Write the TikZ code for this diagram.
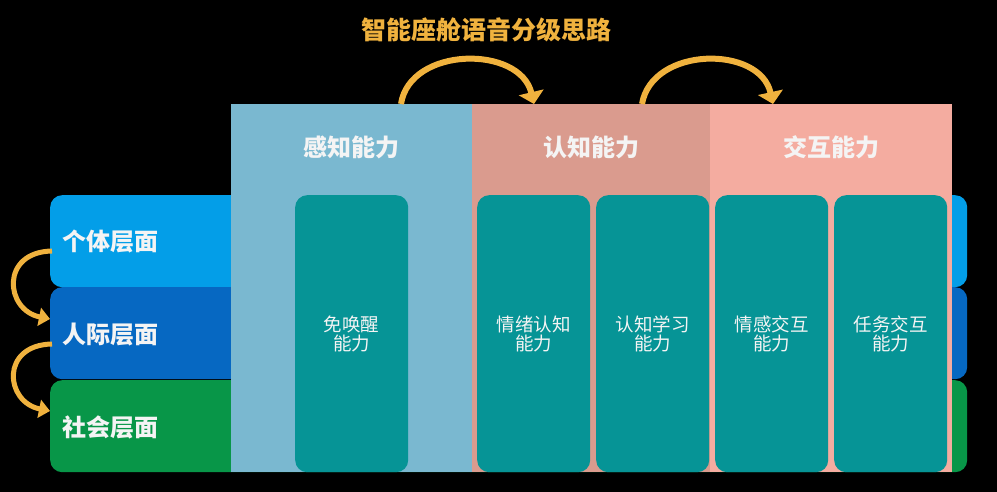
\documentclass[tikz,border=0pt]{standalone}
\usepackage{fontspec}
\setmainfont{Noto Sans CJK SC}
\usetikzlibrary{arrows.meta}
\definecolor{rowone}{RGB}{3,158,232}
\definecolor{rowtwo}{RGB}{6,104,194}
\definecolor{rowthree}{RGB}{8,150,72}
\definecolor{colsense}{RGB}{122,184,208}
\definecolor{colcog}{RGB}{218,155,142}
\definecolor{colact}{RGB}{244,172,160}
\definecolor{tealbox}{RGB}{6,148,150}
\definecolor{gold}{RGB}{240,178,62}
\definecolor{softwhite}{RGB}{244,244,244}
\tikzset{
  row/.style={rounded corners=12pt, inner sep=0pt, minimum width=917pt, minimum height=92pt, anchor=north west},
  col/.style={inner sep=0pt, minimum width=241pt, minimum height=368pt, anchor=north west},
  ability/.style={fill=tealbox, rounded corners=12pt, inner sep=0pt, minimum width=113pt, minimum height=277pt, anchor=north west},
  big/.style={text=softwhite, font=\fontsize{24}{27}\selectfont\bfseries},
  small/.style={text=softwhite, align=center, font=\fontsize{18.5}{19}\selectfont},
  flow/.style={draw=gold, line width=6pt, -{Triangle[width=25pt,length=12pt]}},
  sideflow/.style={draw=gold, line width=5pt, -{Triangle[width=18pt,length=11pt]}}
}
\newcommand{\abil}[3]{\node[small] (#1) at (#2,334) {#3};}

\begin{document}
\begin{tikzpicture}[x=1pt,y=-1pt]
  \fill[black] (0,0) rectangle (997,492);
  \useasboundingbox (0,0) rectangle (997,492);
  \node[big, text=gold, font=\fontsize{25}{28}\selectfont\bfseries] (title) at (486,30) {智能座舱语音分级思路};

  % layers
  \node[row, fill=rowone] (indiv) at (50,195) {};
  \node[row, fill=rowtwo] (inter) at (50,287) {};
  \node[row, fill=rowthree] (soc) at (50,380) {};
  \node[big, anchor=west] (indivl) at (59,242) {个体层面};
  \node[big, anchor=west] (interl) at (59,335) {人际层面};
  \node[big, anchor=west] (socl) at (59,427) {社会层面};

  % abilities
  \node[col, fill=colsense] (sense) at (231,104) {};
  \node[col, fill=colcog, minimum width=238pt] (cog) at (472,104) {};
  \node[col, fill=colact, minimum width=242pt] (act) at (710,104) {};
  \node[big] (sensel) at (sense.north |- 0,147) {感知能力};
  \node[big] (cogl) at (cog.north |- 0,147) {认知能力};
  \node[big] (actl) at (act.north |- 0,147) {交互能力};

  \node[ability] (wake) at (295,195) {};
  \node[ability] (emo) at (477,195) {};
  \node[ability] (learn) at (596,195) {};
  \node[ability] (feel) at (715,195) {};
  \node[ability] (task) at (834,195) {};
  \abil{wakel}{351.5}{免唤醒\\能力}
  \abil{emol}{533.5}{情绪认知\\能力}
  \abil{learnl}{652.5}{认知学习\\能力}
  \abil{feell}{771.5}{情感交互\\能力}
  \abil{taskl}{890.5}{任务交互\\能力}

  % arrows
  \coordinate (s1) at (401,104);
  \coordinate (e1) at (534,104);
  \coordinate (s2) at (642,104);
  \coordinate (e2) at (773,104);
  \draw[flow] (s1) .. controls (410,46) and (520,45) .. (e1);
  \draw[flow] (s2) .. controls (652,46) and (760,45) .. (e2);
  \coordinate (l1) at (52,251);
  \coordinate (l2) at (52,344);
  \draw[sideflow] (l1) .. controls (0,252) and (5,310) .. (inter.west |- 0,319);
  \draw[sideflow] (l2) .. controls (0,345) and (5,402) .. (soc.west |- 0,411);
\end{tikzpicture}
\end{document}
